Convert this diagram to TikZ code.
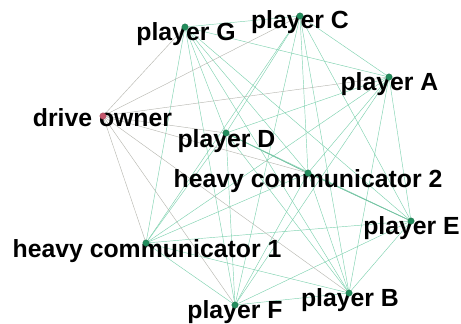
\documentclass[tikz,border=0pt]{standalone}
\usepackage{fontspec}
\setmainfont{Liberation Sans}
\pgfdeclarelayer{edges}
\pgfdeclarelayer{labels}
\pgfsetlayers{edges,labels,main}
\definecolor{linkgreen}{RGB}{128,210,176}
\definecolor{linkgrey}{RGB}{185,185,178}
\definecolor{dotgreen}{RGB}{34,140,92}
\definecolor{dotred}{RGB}{196,86,108}
\tikzset{
  dot/.style={circle, inner sep=0pt, minimum size=6.5pt, fill=dotgreen, draw=dotgreen!80!black, line width=0.3pt},
  ownerdot/.style={dot, fill=dotred, draw=dotred!80!black},
  lbl/.style={anchor=base, inner sep=0pt, font=\fontsize{24.8}{27}\selectfont\bfseries, text=black},
  greenedge/.style={draw=linkgreen, line width=0.45pt},
  heavyedge/.style={draw=linkgreen!92!black, line width=0.7pt},
  greyedge/.style={draw=linkgrey, line width=0.45pt}
}
\begin{document}
\begin{tikzpicture}[x=1pt, y=-1pt]
  \useasboundingbox (0,0) rectangle (461,324);

  % vertices
  \node[dot] (G)  at (185,27)  {};
  \node[dot] (C)  at (300,16)  {};
  \node[dot] (A)  at (389,77)  {};
  \node[ownerdot] (O) at (103,116) {};
  \node[dot] (D)  at (226,133) {};
  \node[dot] (H2) at (308,173) {};
  \node[dot] (E)  at (411,221) {};
  \node[dot] (H1) at (146,243) {};
  \node[dot] (B)  at (349,293) {};
  \node[dot] (F)  at (235,305) {};

  % names
  \begin{pgfonlayer}{labels}
    \node[lbl] (lG)  at (186,40)  {player G};
    \node[lbl] (lC)  at (300,28)  {player C};
    \node[lbl] (lA)  at (389.5,90) {player A};
    \node[lbl] (lO)  at (102.5,126) {drive owner};
    \node[lbl] (lD)  at (226.5,147) {player D};
    \node[lbl] (lH2) at (308,187) {heavy communicator 2};
    \node[lbl] (lE)  at (411.5,234) {player E};
    \node[lbl] (lH1) at (147,257) {heavy communicator 1};
    \node[lbl] (lB)  at (350,306) {player B};
    \node[lbl] (lF)  at (235,318) {player F};
  \end{pgfonlayer}

  % links
  \begin{pgfonlayer}{edges}
    \foreach \a [count=\i] in {G,C,A,D,H2,E,H1,B,F}{
      \foreach \b [count=\j] in {G,C,A,D,H2,E,H1,B,F}{
        \ifnum\j>\i \draw[greenedge] (\a) -- (\b); \fi
      }
    }
    \draw[heavyedge] (D) -- (H2);
    \draw[heavyedge] (H2) -- (E);
    \foreach \b in {G,C,A,D,H2,H1,F,B}{
      \draw[greyedge] (O) -- (\b);
    }
  \end{pgfonlayer}
\end{tikzpicture}
\end{document}
